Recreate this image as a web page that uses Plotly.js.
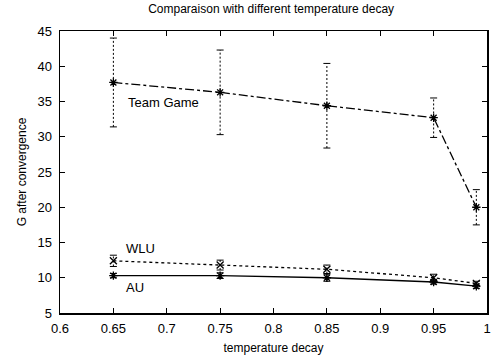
<!DOCTYPE html>
<html><head><meta charset="utf-8">
<script src="https://cdn.plot.ly/plotly-3.0.1.min.js"></script>
<style>html,body{margin:0;padding:0;background:#fff}</style>
</head><body><div id="chart" style="width:493px;height:359px"></div>
<script>
const decay = [0.65, 0.75, 0.85, 0.95, 0.99];
const teamGame = [37.7, 36.3, 34.4, 32.7, 20.0];
const teamGameErr = [6.3, 6.0, 6.0, 2.8, 2.5];
const wlu = [12.4, 11.8, 11.2, 10.0, 9.2];
const wluErr = [0.8, 0.7, 0.6, 0.5, 0.3];
const au = [10.3, 10.3, 10.0, 9.4, 8.8];
const auErr = [0.3, 0.4, 0.5, 0.3, 0.3];
const xTicks = [0.6, 0.65, 0.7, 0.75, 0.8, 0.85, 0.9, 0.95, 1];
const xTickText = ["0.6", "0.65", "0.7", "0.75", "0.8", "0.85", "0.9", "0.95", "1"];
const yTicks = [5, 10, 15, 20, 25, 30, 35, 40, 45];
const FONT = 'Liberation Sans, Arial, sans-serif';

function tr(y, dash, sym) {
  return {
    x: decay, y: y, type: 'scatter', mode: 'lines+markers',
    line: {color: '#000', width: 1.3, dash: dash},
    marker: {symbol: sym, size: 7, color: '#000', line: {color: '#000', width: 1.3}},
    showlegend: false, hoverinfo: 'skip'
  };
}
function errTrace(y, err) {
  const xs = [], ys = [];
  decay.forEach((d, i) => { xs.push(d, d, null); ys.push(y[i] - err[i], y[i] + err[i], null); });
  return {x: xs, y: ys, type: 'scatter', mode: 'lines', connectgaps: false,
    line: {color: '#000', width: 1, dash: '2px,2px'}, showlegend: false, hoverinfo: 'skip'};
}
function capTrace(y, err) {
  return {x: decay.concat(decay), y: y.map((v, i) => v - err[i]).concat(y.map((v, i) => v + err[i])),
    type: 'scatter', mode: 'markers', marker: {symbol: 'line-ew', size: 5, line: {color: '#000', width: 1}},
    showlegend: false, hoverinfo: 'skip'};
}
const data = [
  errTrace(teamGame, teamGameErr), capTrace(teamGame, teamGameErr),
  errTrace(wlu, wluErr), capTrace(wlu, wluErr),
  errTrace(au, auErr), capTrace(au, auErr),
  tr(teamGame, 'dashdot', 'asterisk-open'),
  tr(wlu, 'dot', 'x-thin-open'),
  tr(au, 'solid', 'asterisk-open')
];
const ax = {showgrid: false, zeroline: false, showline: true, linecolor: '#000', linewidth: 1.5,
  mirror: 'ticks', ticks: 'inside', ticklen: 5, tickcolor: '#000',
  tickfont: {family: FONT, size: 13, color: '#000'}};
const layout = {
  width: 493, height: 359,
  margin: {l: 60, r: 6, t: 31, b: 46},
  paper_bgcolor: '#fff', plot_bgcolor: '#fff',
  title: {text: 'Comparaison with different temperature decay', x: 0.55, xanchor: 'center', y: 0.988, yanchor: 'top',
    font: {family: FONT, size: 12, color: '#000'}},
  xaxis: Object.assign({}, ax, {range: [0.6, 1], tickvals: xTicks, ticktext: xTickText, ticklabelstandoff: 3,
    title: {text: 'temperature decay', standoff: 8, font: {family: FONT, size: 12, color: '#000'}}}),
  yaxis: Object.assign({}, ax, {range: [5, 45], tickvals: yTicks, ticklabelstandoff: 4,
    title: {text: 'G after convergence', standoff: 8, font: {family: FONT, size: 12, color: '#000'}}}),
  annotations: [
    {x: 0.662, y: 34.9, xref: 'x', yref: 'y', text: 'Team Game', showarrow: false, xanchor: 'left', font: {family: FONT, size: 13, color: '#000'}},
    {x: 0.66, y: 14.2, xref: 'x', yref: 'y', text: 'WLU', showarrow: false, xanchor: 'left', font: {family: FONT, size: 13, color: '#000'}},
    {x: 0.66, y: 8.6, xref: 'x', yref: 'y', text: 'AU', showarrow: false, xanchor: 'left', font: {family: FONT, size: 13, color: '#000'}}
  ]
};
Plotly.newPlot('chart', data, layout, {staticPlot: true, displayModeBar: false});
</script></body></html>
